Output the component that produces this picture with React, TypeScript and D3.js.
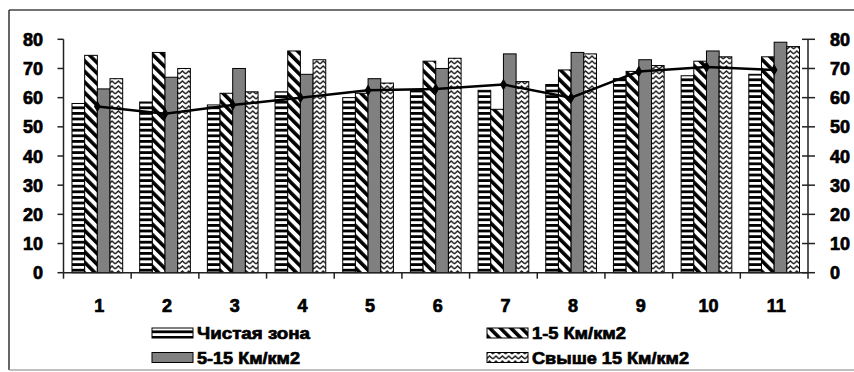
import React from "react";
import * as d3 from "d3";

const categories = ["1", "2", "3", "4", "5", "6", "7", "8", "9", "10", "11"];
const seriesNames = ["Чистая зона", "1-5 Км/км2", "5-15 Км/км2", "Свыше 15 Км/км2"];
const cleanZone = [58, 58.5, 57.5, 62, 60, 62.5, 62.5, 64.5, 66.5, 67.5, 68];
const zone1to5 = [74.5, 75.5, 61.5, 76, 61.5, 72.5, 56, 69.5, 69, 72.5, 74];
const zone5to15 = [63, 67, 70, 68, 66.5, 70, 75, 75.5, 73, 76, 79];
const zoneOver15 = [66.5, 70, 62, 73, 65, 73.5, 65.5, 75, 71, 74, 77.5];
const lineValues = [57, 54.5, 57.5, 60, 62.5, 63, 64.5, 60, 69, 70.5, 69.5];
const yTicks = [0, 10, 20, 30, 40, 50, 60, 70, 80];

const W = 854;
const H = 372;
const plot = { left: 63.5, right: 808, top: 39.3, bottom: 272.7 };
const fills = ["url(#hstripe)", "url(#diag)", "#808080", "url(#zigzag)"];
const FONT = "'Liberation Sans', Arial, sans-serif";

export default function App() {
  const series = [cleanZone, zone1to5, zone5to15, zoneOver15];
  const x = d3.scaleBand<string>().domain(categories).range([plot.left, plot.right]).paddingInner(0).paddingOuter(0);
  const inner = d3
    .scaleBand<number>()
    .domain([0, 1, 2, 3])
    .range([0, x.bandwidth()])
    .paddingOuter(0.67)
    .paddingInner(0);
  const y = d3.scaleLinear().domain([0, 80]).range([plot.bottom, plot.top]);
  const line = d3
    .line<number>()
    .x((_, i) => (x(categories[i]) as number) + x.bandwidth() / 2)
    .y((d) => y(d));

  const legendItems = [
    { x: 152, y: 333, i: 0 },
    { x: 487, y: 333, i: 1 },
    { x: 152, y: 357.5, i: 2 },
    { x: 487, y: 357.5, i: 3 },
  ];
  const legendTextLen = [113, 94, 103, 157];
  const heavy = { stroke: "#000", strokeWidth: 0.7 };

  return (
    <svg width={W} height={H} style={{ position: "absolute", left: 0, top: 0, display: "block" }}>
      <defs>
        <pattern id="hstripe" patternUnits="userSpaceOnUse" width={6} height={5.6}>
          <rect width={6} height={5.6} fill="#fff" />
          <rect width={6} height={2.8} fill="#000" />
        </pattern>
        <pattern id="diag" patternUnits="userSpaceOnUse" width={7.5} height={7.5} patternTransform="rotate(-45)">
          <rect width={7.5} height={7.5} fill="#fff" />
          <rect width={3.6} height={7.5} fill="#000" />
        </pattern>
        <pattern id="zigzag" patternUnits="userSpaceOnUse" width={6.4} height={5}>
          <rect width={6.4} height={5} fill="#fff" />
          <polyline points="0,4 3.2,1 6.4,4" fill="none" stroke="#222" strokeWidth={1.5} />
        </pattern>
      </defs>

      <rect x={0} y={0} width={W} height={H} fill="#fff" />
      <line x1={9} y1={10} x2={W} y2={10} stroke="#444" strokeWidth={1.5} />
      <line x1={9} y1={10} x2={9} y2={370} stroke="#333" strokeWidth={1.5} />
      <line x1={9} y1={370} x2={W} y2={370} stroke="#aaa" strokeWidth={1.5} />

      {series.map((vals, si) =>
        vals.map((v, ci) => {
          const bx = (x(categories[ci]) as number) + (inner(si) as number);
          return (
            <rect
              key={`b${si}-${ci}`}
              x={bx}
              y={y(v)}
              width={inner.bandwidth()}
              height={y(0) - y(v)}
              fill={fills[si]}
              stroke="#000"
              strokeWidth={1}
            />
          );
        })
      )}

      <path d={line(lineValues) || ""} fill="none" stroke="#000" strokeWidth={2.5} />
      {lineValues.map((v, i) => {
        const cx = (x(categories[i]) as number) + x.bandwidth() / 2;
        const cy = y(v);
        return (
          <path
            key={`m${i}`}
            d={d3.symbol().type(d3.symbolDiamond).size(40)() || ""}
            transform={`translate(${cx},${cy})`}
            fill="#000"
          />
        );
      })}

      {/* left axis */}
      <line x1={plot.left} y1={plot.top} x2={plot.left} y2={plot.bottom} stroke="#222" strokeWidth={1.5} />
      {yTicks.map((t) => (
        <g key={`yl${t}`}>
          <line x1={plot.left - 6} x2={plot.left} y1={y(t)} y2={y(t)} stroke="#222" strokeWidth={1.5} />
          <text x={43} y={y(t) + 6.5} textAnchor="end" fontFamily={FONT} fontWeight="bold" fontSize={18} fill="#000" {...heavy}>
            {t}
          </text>
        </g>
      ))}
      {/* right axis */}
      <line x1={plot.right} y1={plot.top} x2={plot.right} y2={plot.bottom} stroke="#222" strokeWidth={1.5} />
      {yTicks.map((t) => (
        <g key={`yr${t}`}>
          <line x1={plot.right - 6} x2={plot.right + 7} y1={y(t)} y2={y(t)} stroke="#222" strokeWidth={1.5} />
          <text x={830} y={y(t) + 6.5} textAnchor="start" fontFamily={FONT} fontWeight="bold" fontSize={18} fill="#000" {...heavy}>
            {t}
          </text>
        </g>
      ))}
      {/* x axis */}
      <line x1={plot.left} y1={plot.bottom} x2={plot.right} y2={plot.bottom} stroke="#222" strokeWidth={1.5} />
      {categories.concat(["end"]).map((c, i) => {
        const tx = plot.left + i * x.step();
        return <line key={`xt${i}`} x1={tx} x2={tx} y1={plot.bottom} y2={plot.bottom + 6} stroke="#222" strokeWidth={1.5} />;
      })}
      {categories.map((c) => (
        <text
          key={`xl${c}`}
          x={(x(c) as number) + x.bandwidth() / 2 + 2}
          y={312}
          textAnchor="middle"
          fontFamily={FONT}
          fontWeight="bold"
          fontSize={18}
          fill="#000"
          {...heavy}
        >
          {c}
        </text>
      ))}

      {/* legend */}
      {legendItems.map((it) => (
        <g key={`lg${it.i}`}>
          <rect x={it.x} y={it.y - 5} width={41} height={10} fill={fills[it.i]} stroke="#000" strokeWidth={1} />
          <text
            x={it.x + 45}
            y={it.y + 6}
            fontFamily={FONT}
            fontWeight="bold"
            fontSize={17}
            fill="#000"
            textLength={legendTextLen[it.i]}
            lengthAdjust="spacingAndGlyphs"
            {...heavy}
          >
            {seriesNames[it.i]}
          </text>
        </g>
      ))}
    </svg>
  );
}
